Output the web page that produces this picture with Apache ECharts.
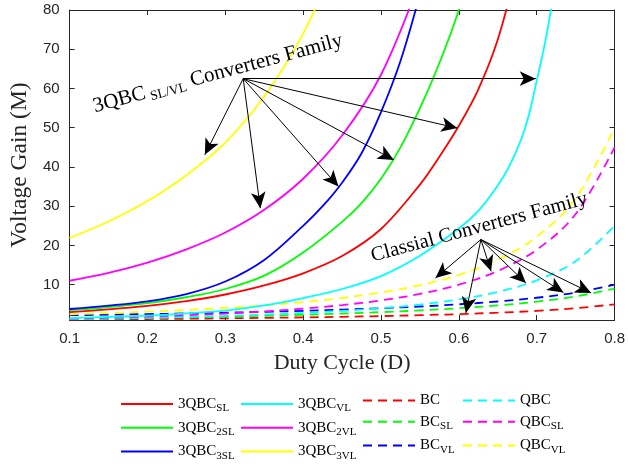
<!DOCTYPE html>
<html><head><meta charset="utf-8">
<script src="https://cdn.jsdelivr.net/npm/echarts@6/dist/echarts.min.js"></script>
<style>html,body{margin:0;padding:0;background:#fff}#c{width:628px;height:466px}</style>
</head><body><div id="c"></div>
<script>
// ---- axis ticks ----
const xTicks = [0.1, 0.2, 0.3, 0.4, 0.5, 0.6, 0.7, 0.8];
const yTicks = [10, 20, 30, 40, 50, 60, 70, 80];

// ---- classical converters (dashed) ----
const dutyClassic = [0.1, 0.15, 0.2, 0.25, 0.3, 0.35, 0.4, 0.45, 0.5, 0.55, 0.6, 0.65, 0.7, 0.75, 0.8];
const gainBC     = [1.11, 1.18, 1.25, 1.33, 1.43, 1.54, 1.67, 1.82, 2.0, 2.22, 2.5, 2.86, 3.33, 4.0, 5.0];
const gainBC_SL  = [1.22, 1.35, 1.5, 1.67, 1.86, 2.08, 2.33, 2.64, 3.0, 3.44, 4.0, 4.71, 5.67, 7.0, 9.0];
const gainBC_VL  = [2.22, 2.35, 2.5, 2.67, 2.86, 3.08, 3.33, 3.64, 4.0, 4.44, 5.0, 5.71, 6.67, 8.0, 10.0];
const gainQBC    = [1.23, 1.38, 1.56, 1.78, 2.04, 2.37, 2.78, 3.31, 4.0, 4.94, 6.25, 8.16, 11.1, 16.0, 25.0];
const gainQBC_SL = [1.36, 1.59, 1.88, 2.22, 2.65, 3.2, 3.89, 4.8, 6.0, 7.65, 10.0, 13.5, 18.9, 28.0, 45.0];
const gainQBC_VL = [2.47, 2.77, 3.13, 3.56, 4.08, 4.73, 5.56, 6.61, 8.0, 9.88, 12.5, 16.3, 22.2, 32.0, 50.0];

// ---- 3QBC family (solid) ----
const duty3QBC_SL  = [0.1, 0.15, 0.2, 0.25, 0.3, 0.35, 0.4, 0.45, 0.5, 0.55, 0.575, 0.6, 0.625, 0.65, 0.675];
const gain3QBC_SL  = [3.0, 3.7, 4.6, 5.8, 7.5, 9.8, 12.9, 17.3, 24.2, 35.5, 42.6, 50.5, 59.8, 72.5, 91];
const duty3QBC_2SL = [0.1, 0.15, 0.2, 0.25, 0.3, 0.35, 0.4, 0.45, 0.475, 0.5, 0.525, 0.55, 0.575, 0.6, 0.625];
const gain3QBC_2SL = [3.5, 4.3, 5.3, 6.8, 8.9, 12.3, 18.2, 26, 30.8, 37, 45, 55, 66.5, 80, 97];
const duty3QBC_3SL = [0.1, 0.15, 0.2, 0.25, 0.3, 0.35, 0.4, 0.425, 0.45, 0.475, 0.5, 0.525, 0.55];
const gain3QBC_3SL = [3.8, 4.65, 5.75, 7.6, 10.8, 16.3, 25, 30, 36, 43.5, 54, 67, 84];
const duty3QBC_VL  = [0.1, 0.15, 0.2, 0.25, 0.3, 0.35, 0.4, 0.45, 0.5, 0.55, 0.6, 0.625, 0.65, 0.665, 0.68, 0.69, 0.7, 0.71, 0.72, 0.73];
const gain3QBC_VL  = [1.5, 1.8, 2.1, 2.7, 3.4, 4.7, 6.6, 8.9, 12.2, 17.4, 24.3, 28.8, 35.3, 40.3, 47, 53.3, 62, 71, 82, 95];
const duty3QBC_2VL = [0.1, 0.15, 0.2, 0.25, 0.3, 0.35, 0.4, 0.45, 0.5, 0.55];
const gain3QBC_2VL = [11.0, 13.0, 15.6, 19.0, 23.3, 29.1, 37.0, 48.0, 63.5, 87.5];
const duty3QBC_3VL = [0.1, 0.15, 0.2, 0.25, 0.3, 0.35, 0.4, 0.45];
const gain3QBC_3VL = [21.9, 26.1, 31.3, 37.9, 46.2, 58, 74, 96];

// ---- annotations (data coordinates) ----
const arrowFrom1 = [0.323, 62.5];
const arrowTips1 = [[0.2737, 43.1], [0.345, 29.5], [0.4454, 35.0], [0.5165, 41.8], [0.598, 49.9], [0.6987, 62.5]];
const arrowFrom2 = [0.6283, 21.5];
const arrowTips2 = [[0.570, 11.7], [0.609, 2.8], [0.6414, 13.4], [0.6861, 10.4], [0.7343, 8.0], [0.7699, 7.9]];
const labelPos1 = [0.2905, 63.8];
const labelPos2 = [0.626, 24.6];

const SERIF = 'Liberation Serif';
const SANS = 'Liberation Sans';
const AX = '#262626';

function mk(name, color, dashed, xs, ys) {
  return {
    name, type: 'line', data: xs.map((x, i) => [x, ys[i]]),
    symbol: 'none', smooth: 0.35, clip: true, silent: true,
    lineStyle: { color, width: 1.8, type: dashed ? [9, 6] : 'solid' },
    itemStyle: { color }, z: dashed ? 2 : 3
  };
}

const series = [
  mk('BC', '#ff0000', true, dutyClassic, gainBC),
  mk('BC_SL', '#00ff00', true, dutyClassic, gainBC_SL),
  mk('BC_VL', '#0000ff', true, dutyClassic, gainBC_VL),
  mk('QBC', '#00ffff', true, dutyClassic, gainQBC),
  mk('QBC_SL', '#ff00ff', true, dutyClassic, gainQBC_SL),
  mk('QBC_VL', '#ffff00', true, dutyClassic, gainQBC_VL),
  mk('3QBC_SL', '#ff0000', false, duty3QBC_SL, gain3QBC_SL),
  mk('3QBC_2SL', '#00ff00', false, duty3QBC_2SL, gain3QBC_2SL),
  mk('3QBC_3SL', '#0000ff', false, duty3QBC_3SL, gain3QBC_3SL),
  mk('3QBC_VL', '#00ffff', false, duty3QBC_VL, gain3QBC_VL),
  mk('3QBC_2VL', '#ff00ff', false, duty3QBC_2VL, gain3QBC_2VL),
  mk('3QBC_3VL', '#ffff00', false, duty3QBC_3VL, gain3QBC_3VL)
];

const arrowLines = arrowTips1.map(t => [{ coord: arrowFrom1 }, { coord: t }])
  .concat(arrowTips2.map(t => [{ coord: arrowFrom2 }, { coord: t }]));
series.push({
  name: 'arrows', type: 'line', data: [], silent: true, z: 5,
  markLine: {
    silent: true, animation: false, symbol: ['none', 'arrow'], symbolSize: [11, 16],
    lineStyle: { color: '#000', width: 1, type: 'solid' },
    label: { show: false }, emphasis: { disabled: true },
    data: arrowLines
  }
});

function legendFmt(name) {
  const p = name.split('_');
  return p.length > 1 ? '{m|' + p[0] + '}{s|' + p[1] + '}' : '{m|' + p[0] + '}';
}
const legendRich = {
  m: { fontFamily: SERIF, fontSize: 15, lineHeight: 20, verticalAlign: 'middle', color: '#000' },
  s: { fontFamily: SERIF, fontSize: 11, lineHeight: 10, padding: [10, 0, 0, 0], verticalAlign: 'bottom', color: '#000' }
};
const legendCols = [
  ['3QBC_SL', '3QBC_2SL', '3QBC_3SL'],
  ['3QBC_VL', '3QBC_2VL', '3QBC_3VL'],
  ['BC', 'BC_SL', 'BC_VL'],
  ['QBC', 'QBC_SL', 'QBC_VL']
];
const legendLeft = [120, 240, 362, 462];
const legends = legendCols.map((d, i) => ({
  data: d, orient: 'vertical', left: legendLeft[i], top: 393, padding: 0,
  itemWidth: 52, itemHeight: 14, itemGap: 2.7, selectedMode: false,
  itemStyle: { opacity: 0 },
  formatter: legendFmt, textStyle: { rich: legendRich }
}));

const axisCommon = {
  axisLine: { show: true, onZero: false, lineStyle: { color: AX, width: 1 } },
  axisTick: { show: true, inside: true, length: 5, lineStyle: { color: AX } },
  splitLine: { show: false }
};

const chart = echarts.init(document.getElementById('c'), null, { renderer: 'canvas' });
chart.setOption({
  animation: false,
  backgroundColor: '#fff',
  grid: { left: 62, right: 9, top: 10, bottom: 146 },
  legend: legends,
  xAxis: [
    Object.assign({}, axisCommon, {
      type: 'value', min: 0.1, max: 0.8, interval: 0.1, position: 'bottom',
      axisLabel: { color: AX, fontFamily: SANS, fontSize: 15, margin: 11, formatter: v => v.toFixed(1) },
      name: 'Duty Cycle (D)', nameLocation: 'middle', nameGap: 32,
      nameTextStyle: { fontFamily: SERIF, fontSize: 22, color: AX }
    }),
    Object.assign({}, axisCommon, {
      type: 'value', min: 0.1, max: 0.8, interval: 0.1, position: 'top',
      axisLabel: { show: false }
    })
  ],
  yAxis: [
    Object.assign({}, axisCommon, {
      type: 'value', min: 1, max: 80, position: 'left',
      axisTick: { show: true, inside: true, length: 5, lineStyle: { color: AX }, customValues: yTicks },
      axisLabel: { color: AX, fontFamily: SANS, fontSize: 15, margin: 10, customValues: yTicks },
      name: 'Voltage Gain (M)', nameLocation: 'middle', nameGap: 32, nameRotate: 90,
      nameTextStyle: { fontFamily: SERIF, fontSize: 23.5, color: AX }
    }),
    Object.assign({}, axisCommon, {
      type: 'value', min: 1, max: 80, position: 'right',
      axisTick: { show: true, inside: true, length: 5, lineStyle: { color: AX }, customValues: yTicks },
      axisLabel: { show: false }
    })
  ],
  series
});

const p1 = chart.convertToPixel({ xAxisIndex: 0, yAxisIndex: 0 }, labelPos1);
const p2 = chart.convertToPixel({ xAxisIndex: 0, yAxisIndex: 0 }, labelPos2);
function annRich(fs) {
  return {
    m: { fontFamily: SERIF, fontSize: fs, lineHeight: 24, verticalAlign: 'middle', fill: '#000' },
    s: { fontFamily: SERIF, fontSize: 13.5, lineHeight: 13, padding: [11, 0, 0, 4], verticalAlign: 'bottom', fill: '#000' }
  };
}
const rot = 15 * Math.PI / 180;
chart.setOption({
  graphic: [
    { type: 'text', x: p1[0], y: p1[1], rotation: rot, z: 10, silent: true,
      style: { text: '{m|3QBC}{s|SL/VL}{m| Converters Family}', rich: annRich(21), align: 'center', verticalAlign: 'middle', fill: '#000' } },
    { type: 'text', x: p2[0], y: p2[1], rotation: rot, z: 10, silent: true,
      style: { text: '{m|Classial Converters Family}', rich: annRich(20.5), align: 'center', verticalAlign: 'middle', fill: '#000' } }
  ]
});
</script>
</body></html>
